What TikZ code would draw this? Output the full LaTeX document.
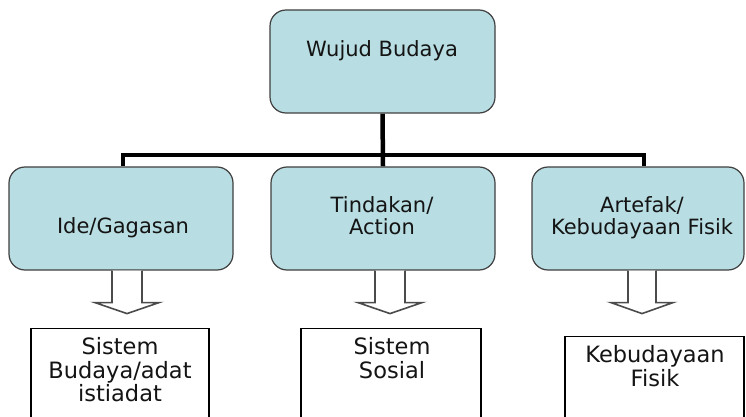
\documentclass[tikz,border=0pt]{standalone}
\usepackage{fontspec}
\setmainfont{DejaVu Sans}
\usetikzlibrary{backgrounds}
\definecolor{boxfill}{RGB}{184,221,226}
\definecolor{boxline}{RGB}{64,64,64}
\definecolor{txt}{RGB}{20,20,20}
\definecolor{arrowline}{RGB}{75,75,75}
\begin{document}
\begin{tikzpicture}[x=1pt,y=-1pt,
  upbox/.style={draw=boxline,line width=1.2pt,fill=boxfill,rounded corners=16pt,
    minimum width=#1,minimum height=103pt,inner sep=0pt},
  lowbox/.style={draw=black,line width=1.2pt,fill=white,
    minimum width=#1,minimum height=130pt,inner sep=0pt},
  uptext/.style={text=txt,align=center,inner sep=0pt,font=\fontsize{21}{22}\selectfont},
  lowtext/.style={text=txt,align=center,inner sep=0pt,font=\fontsize{22.5}{23.5}\selectfont},
  bus/.style={draw=black,line width=4.5pt},
  hollow/.style={draw=arrowline,line width=1.6pt,fill=white,line join=miter}
]
\useasboundingbox (0,0) rectangle (746,417);

% upper boxes
\node[upbox=225pt] (top) at (382.5,61.5) {};
\node[upbox=224pt] (ide) at (121,218.5) {};
\node[upbox=224pt] (tind) at (383,218.5) {};
\node[upbox=212pt] (art) at (638,218.5) {};

\node[uptext] (ttop) at (382,51) {Wujud Budaya};
\node[uptext] (tide) at (123,228) {Ide/Gagasan};
\node[uptext] (ttind) at (382,216) {Tindakan/\\Action};
\node[uptext] (tart) at (642,218) {Artefak/\\Kebudayaan Fisik};

% bus connectors (behind the boxes)
\begin{scope}[on background layer]
\fill[white] (0,0) rectangle (746,417);
\coordinate (busL) at (123,155);
\coordinate (busR) at (644,155);
\draw[bus] (top.south) -- (tind.north);
\draw[bus] (busL |- ide.north) -- (busL) -- (busR) -- (busR |- art.north);
\end{scope}

% lower boxes
\node[lowbox=178pt,anchor=north] (bsis) at (120,328) {};
\node[lowbox=180pt,anchor=north] (bsos) at (391,328) {};
\node[lowbox=179pt,anchor=north] (bfis) at (654.5,336) {};

\node[lowtext] (tbsis) at (120,370) {Sistem\\Budaya/adat\\istiadat};
\node[lowtext] (tbsos) at (392,358) {Sistem\\Sosial};
\node[lowtext] (tbfis) at (655,366) {Kebudayaan\\Fisik};

% hollow arrows
\draw[hollow] ([xshift=-9pt]ide.south) -- ++(0,32) -- ++(-17,0) -- ++(32,11)
  -- ++(32,-11) -- ++(-17,0) -- ++(0,-32);
\draw[hollow] ([xshift=-8pt]tind.south) -- ++(0,32) -- ++(-17,0) -- ++(32,11)
  -- ++(32,-11) -- ++(-17,0) -- ++(0,-32);
\draw[hollow] ([xshift=-10pt]art.south) -- ++(0,32) -- ++(-17,0) -- ++(31,11)
  -- ++(31,-11) -- ++(-17,0) -- ++(0,-32);
\end{tikzpicture}
\end{document}
